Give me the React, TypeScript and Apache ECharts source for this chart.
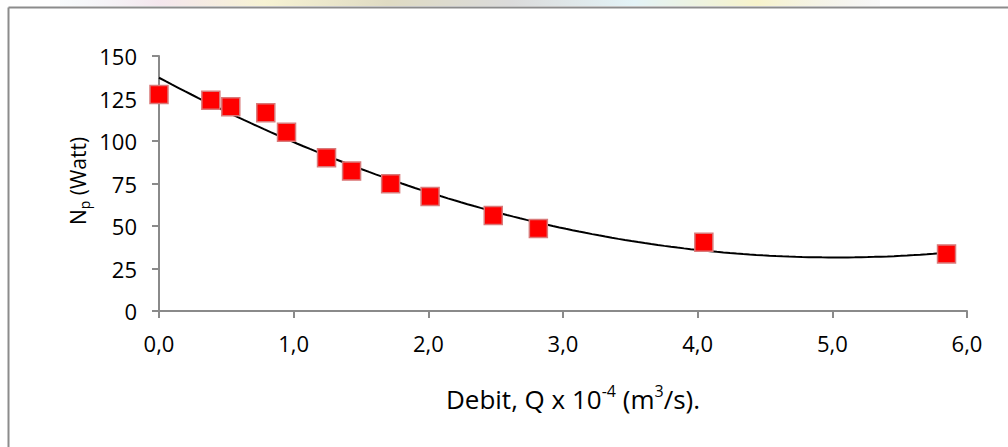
import React, { useEffect, useRef } from "react";
import * as echarts from "echarts";

const debitQ: number[] = [0, 0.385, 0.533, 0.793, 0.947, 1.244, 1.43, 1.72, 2.013, 2.482, 2.817, 4.046, 5.848];
const powerNp: number[] = [127.4, 124.0, 120.1, 116.6, 105.2, 90.1, 82.3, 74.8, 67.4, 56.2, 48.5, 40.4, 33.6];
const xTicks = { min: 0, max: 6, interval: 1 };
const yTicks = { min: 0, max: 150, interval: 25 };

// Least-squares quadratic trendline (Excel "polynomial, order 2")
function fitQuadratic(xs: number[], ys: number[]): [number, number, number] {
  let s0 = 0, s1 = 0, s2 = 0, s3 = 0, s4 = 0, t0 = 0, t1 = 0, t2 = 0;
  for (let i = 0; i < xs.length; i++) {
    const x = xs[i], y = ys[i];
    s0 += 1; s1 += x; s2 += x * x; s3 += x * x * x; s4 += x * x * x * x;
    t0 += y; t1 += x * y; t2 += x * x * y;
  }
  const M = [
    [s0, s1, s2, t0],
    [s1, s2, s3, t1],
    [s2, s3, s4, t2],
  ];
  for (let c = 0; c < 3; c++) {
    let p = c;
    for (let r = c + 1; r < 3; r++) if (Math.abs(M[r][c]) > Math.abs(M[p][c])) p = r;
    [M[c], M[p]] = [M[p], M[c]];
    for (let r = 0; r < 3; r++) {
      if (r === c) continue;
      const f = M[r][c] / M[c][c];
      for (let k = c; k < 4; k++) M[r][k] -= f * M[c][k];
    }
  }
  return [M[0][3] / M[0][0], M[1][3] / M[1][1], M[2][3] / M[2][2]];
}

export default function App() {
  const ref = useRef<HTMLDivElement>(null);
  useEffect(() => {
    document.body.style.margin = "0";
    const chart = echarts.init(ref.current!, null, { renderer: "svg" });
    const [c0, c1, c2] = fitQuadratic(debitQ, powerNp);
    const xMin = Math.min(...debitQ), xMax = Math.max(...debitQ);
    const trend: number[][] = [];
    const n = 120;
    for (let i = 0; i <= n; i++) {
      const x = xMin + ((xMax - xMin) * i) / n;
      trend.push([x, c0 + c1 * x + c2 * x * x]);
    }
    const font = "'Open Sans', 'Noto Sans', sans-serif";
    const axisGray = "#8a8a8a";
    chart.setOption({
      animation: false,
      backgroundColor: "#ffffff",
      grid: { left: 159, right: 41, top: 56, bottom: 136 },
      xAxis: {
        type: "value",
        min: xTicks.min,
        max: xTicks.max,
        interval: xTicks.interval,
        splitLine: { show: false },
        axisLine: { show: true, onZero: false, lineStyle: { color: axisGray, width: 2 } },
        axisTick: { show: true, length: 7, lineStyle: { color: axisGray, width: 2 } },
        axisLabel: {
          margin: 21,
          fontFamily: font,
          fontSize: 22,
          color: "#000",
          formatter: (v: number) => v.toFixed(1).replace(".", ","),
        },
      },
      yAxis: {
        type: "value",
        min: yTicks.min,
        max: yTicks.max,
        interval: yTicks.interval,
        splitLine: { show: false },
        axisLine: { show: true, lineStyle: { color: axisGray, width: 2 } },
        axisTick: { show: true, length: 7, lineStyle: { color: axisGray, width: 2 } },
        axisLabel: { margin: 22, fontFamily: font, fontSize: 22, color: "#000" },
      },
      series: [
        {
          type: "line",
          data: trend,
          showSymbol: false,
          symbol: "none",
          smooth: false,
          lineStyle: { color: "#000", width: 2 },
          z: 2,
        },
        {
          type: "scatter",
          data: debitQ.map((x, i) => [x, powerNp[i]]),
          symbol: "rect",
          symbolSize: 18,
          itemStyle: {
            color: "#ff0000",
            opacity: 1,
            borderColor: "#d97a7a",
            borderWidth: 1.5,
          },
          z: 3,
        },
      ],
      graphic: [
        {
          type: "rect",
          shape: { x: 60, y: 0, width: 820, height: 6 },
          style: {
            fill: new echarts.graphic.LinearGradient(0, 0, 1, 0, [
              { offset: 0, color: "rgba(230,240,245,0.3)" },
              { offset: 0.12, color: "rgba(240,220,230,0.7)" },
              { offset: 0.25, color: "rgba(245,240,200,0.8)" },
              { offset: 0.4, color: "rgba(215,210,180,0.8)" },
              { offset: 0.55, color: "rgba(210,210,210,0.8)" },
              { offset: 0.7, color: "rgba(220,240,245,0.8)" },
              { offset: 0.85, color: "rgba(245,240,190,0.8)" },
              { offset: 1, color: "rgba(230,230,230,0.3)" },
            ]),
          },
          silent: true,
        },
        {
          type: "line",
          shape: { x1: 8.5, y1: 7.5, x2: 1008, y2: 7.5 },
          style: { stroke: "#8c8c8c", lineWidth: 2 },
          silent: true,
        },
        {
          type: "line",
          shape: { x1: 8.5, y1: 7.5, x2: 8.5, y2: 447 },
          style: { stroke: "#8c8c8c", lineWidth: 2 },
          silent: true,
        },
        {
          type: "text",
          x: 78,
          y: 181,
          rotation: Math.PI / 2,
          style: {
            text: "{b|N}{s|p}{b| (Watt)}",
            align: "center",
            verticalAlign: "middle",
            rich: {
              b: { fontFamily: font, fontSize: 21, lineHeight: 27, fill: "#000", verticalAlign: "middle" },
              s: { fontFamily: font, fontSize: 14, lineHeight: 14, fill: "#000", verticalAlign: "bottom" },
            },
          },
          silent: true,
        },
        {
          type: "text",
          x: 573,
          y: 399,
          style: {
            text: "{b|Debit, Q x 10}{s|-4}{b| (m}{s|3}{b|/s).}",
            align: "center",
            verticalAlign: "middle",
            rich: {
              b: { fontFamily: font, fontSize: 26, lineHeight: 32, fill: "#000", verticalAlign: "middle" },
              s: { fontFamily: font, fontSize: 16, lineHeight: 16, fill: "#000", verticalAlign: "top" },
            },
          },
          silent: true,
        },
      ],
    });
    return () => chart.dispose();
  }, []);
  return <div ref={ref} style={{ width: 1008, height: 447 }} />;
}
